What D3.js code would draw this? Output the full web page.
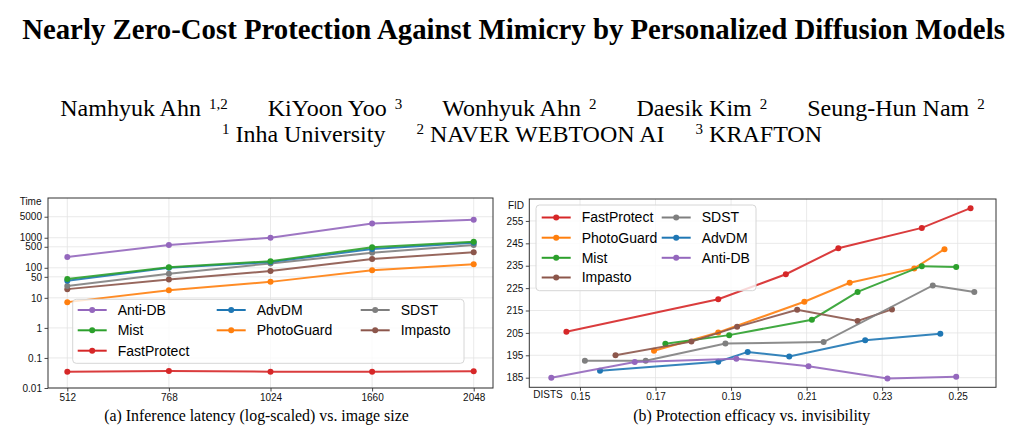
<!DOCTYPE html>
<html><head><meta charset="utf-8">
<script src="https://cdn.jsdelivr.net/npm/d3@7"></script>
<style>body{margin:0;background:#fff} svg{display:block}</style>
</head><body>
<svg id="c" width="1028" height="431"></svg>
<script>
// ---------- Data: (a) latency ----------
const sizes = ["512","768","1024","1660","2048"];
const latAntiDB      = [230, 570, 1000, 2950, 4000];
const latMist        = [42, 105, 166, 480, 740];
const latAdvDM       = [37, 100, 155, 420, 680];
const latSDST        = [25, 63, 140, 316, 570];
const latImpasto     = [19.5, 41, 78, 195, 330];
const latPhotoGuard  = [7.2, 18, 34, 83, 132];
const latFastProtect = [0.035, 0.037, 0.035, 0.035, 0.036];
const latTicks  = [0.01, 0.1, 1, 10, 50, 100, 500, 1000, 5000];
const latTickLabels = ["0.01","0.1","1","10","50","100","500","1000","5000"];
const latLegendOrder = ["Anti-DB","Mist","FastProtect","AdvDM","PhotoGuard","SDST","Impasto"];

// ---------- Data: (b) efficacy vs invisibility ----------
const fpDists = [0.1464, 0.1866, 0.2045, 0.2184, 0.2405, 0.2534];
const fpFid   = [205.5, 220.0, 231.2, 242.8, 251.9, 260.7];
const pgDists = [0.1696, 0.1866, 0.2094, 0.2214, 0.2385, 0.2465];
const pgFid   = [197.0, 205.2, 218.9, 227.4, 233.8, 242.4];
const miDists = [0.1726, 0.1895, 0.2114, 0.2235, 0.2405, 0.2496];
const miFid   = [200.2, 204.0, 210.9, 223.3, 234.8, 234.4];
const imDists = [0.1594, 0.1795, 0.1916, 0.2075, 0.2235, 0.2326];
const imFid   = [195.0, 201.1, 207.7, 215.3, 210.3, 215.5];
const sdDists = [0.1513, 0.1674, 0.1885, 0.2145, 0.2434, 0.2544];
const sdFid   = [192.6, 192.6, 200.3, 200.9, 226.2, 223.3];
const adDists = [0.1553, 0.1866, 0.1944, 0.2054, 0.2255, 0.2454];
const adFid   = [188.1, 192.1, 196.5, 194.5, 201.7, 204.6];
const abDists = [0.1424, 0.1645, 0.1914, 0.2105, 0.2314, 0.2496];
const abFid   = [185.0, 192.0, 193.5, 190.1, 184.6, 185.4];
const distsTicks = [0.15, 0.17, 0.19, 0.21, 0.23, 0.25];
const fidTicks = [185, 195, 205, 215, 225, 235, 245, 255];
const effLegendOrder = ["FastProtect","PhotoGuard","Mist","Impasto","SDST","AdvDM","Anti-DB"];

// ---------- Text ----------
const titleText = "Nearly Zero-Cost Protection Against Mimicry by Personalized Diffusion Models";
const authors = [["Namhyuk Ahn","1,2"],["KiYoon Yoo","3"],["Wonhyuk Ahn","2"],["Daesik Kim","2"],["Seung-Hun Nam","2"]];
const affils = [["1","Inha University"],["2","NAVER WEBTOON AI"],["3","KRAFTON"]];
const capA = "(a) Inference latency (log-scaled) vs. image size";
const capB = "(b) Protection efficacy vs. invisibility";

const colors = {
  "AdvDM":"#1f77b4","PhotoGuard":"#ff7f0e","Mist":"#2ca02c","FastProtect":"#d62728",
  "Anti-DB":"#9467bd","Impasto":"#8c564b","SDST":"#7f7f7f"
};

const svg = d3.select("#c");
const SERIF = "'Liberation Serif','Times New Roman',serif";
const SANS = "'Liberation Sans',Arial,Helvetica,sans-serif";

function fit(sel, target){
  const w = sel.node().getComputedTextLength();
  sel.attr("font-size", parseFloat(sel.attr("font-size")) * target / w);
}

// Title
const t = svg.append("text").attr("x",513.5).attr("y",39).attr("text-anchor","middle")
  .attr("font-family",SERIF).attr("font-weight","bold").attr("font-size",25).attr("fill","#000").text(titleText);
fit(t, 983);

// Authors / affiliations lines
function supLine(items, supFirst, baseY, center, gapIn, gapOut){
  const g = svg.append("g");
  let cx = 0;
  items.forEach((it,i)=>{
    const parts = supFirst ? [[it[0],true],[it[1],false]] : [[it[0],false],[it[1],true]];
    parts.forEach((p,j)=>{
      const el = g.append("text").attr("x",cx).attr("y", p[1] ? baseY-7.5 : baseY)
        .attr("font-family",SERIF).attr("font-size", p[1] ? 15 : 24).attr("fill","#000").text(p[0]);
      cx += el.node().getComputedTextLength();
      if (j===0) cx += gapIn;
    });
    if (i < items.length-1) cx += gapOut;
  });
  g.attr("transform",`translate(${center - cx/2},0)`);
}
supLine(authors, false, 116, 522.5, 8, 40);
supLine(affils, true, 141.5, 522, 6, 31);

// Captions
const ca = svg.append("text").attr("x",256.5).attr("y",421).attr("text-anchor","middle")
  .attr("font-family",SERIF).attr("font-size",15).attr("fill","#000").text(capA);
fit(ca, 305);
const cb = svg.append("text").attr("x",751.7).attr("y",421).attr("text-anchor","middle")
  .attr("font-family",SERIF).attr("font-size",15).attr("fill","#000").text(capB);
fit(cb, 237);

function styleAxis(g){
  g.select(".domain").remove();
  g.selectAll(".tick line").attr("stroke","#333").attr("stroke-width",0.9);
  g.selectAll(".tick text").attr("font-family",SANS).attr("font-size",10).attr("fill","#111");
}

function drawLegend(x0,y0,w,h,cols,rowY,order){
  const lg = svg.append("g");
  lg.append("rect").attr("x",x0).attr("y",y0).attr("width",w).attr("height",h).attr("rx",3.5)
    .attr("fill","#fff").attr("fill-opacity",0.8).attr("stroke","#d6d6d6").attr("stroke-width",1);
  let idx = 0;
  cols.forEach(c=>{
    for (let r=0; r<c.n; r++){
      const name = order[idx++];
      const y = rowY[r];
      lg.append("line").attr("x1",c.x).attr("x2",c.x+29).attr("y1",y).attr("y2",y)
        .attr("stroke",colors[name]).attr("stroke-width",2);
      lg.append("circle").attr("cx",c.x+14.5).attr("cy",y).attr("r",3).attr("fill",colors[name]);
      lg.append("text").attr("x",c.x+40).attr("y",y).attr("dy","0.35em")
        .attr("font-family",SANS).attr("font-size",14).attr("fill","#000").text(name);
    }
  });
}

// ================= Chart (a) =================
{
  const L=48, R=493, T=198, B=388;
  const x = d3.scalePoint().domain(sizes).range([L,R]).padding(0.19);
  const y = d3.scaleLog().domain([0.01, 21000]).range([B,T]);
  const grid = svg.append("g").attr("stroke","#e3e3e3").attr("stroke-width",0.8);
  sizes.forEach(s=>grid.append("line").attr("x1",x(s)).attr("x2",x(s)).attr("y1",T).attr("y2",B));
  latTicks.forEach(v=>grid.append("line").attr("x1",L).attr("x2",R).attr("y1",y(v)).attr("y2",y(v)));

  const series = [
    ["Anti-DB",latAntiDB],["Mist",latMist],["AdvDM",latAdvDM],["SDST",latSDST],
    ["Impasto",latImpasto],["PhotoGuard",latPhotoGuard],["FastProtect",latFastProtect]
  ];
  const line = d3.line().x((d,i)=>x(sizes[i])).y(d=>y(d));
  series.slice().reverse().forEach(([name,vals])=>{
    const g = svg.append("g");
    g.append("path").datum(vals).attr("d",line).attr("fill","none")
      .attr("stroke",colors[name]).attr("stroke-width",2).attr("stroke-opacity",0.9);
    g.selectAll("circle").data(vals).enter().append("circle")
      .attr("cx",(d,i)=>x(sizes[i])).attr("cy",d=>y(d)).attr("r",3).attr("fill",colors[name]);
  });

  svg.append("rect").attr("x",L).attr("y",T).attr("width",R-L).attr("height",B-T)
    .attr("fill","none").attr("stroke","#333").attr("stroke-width",1);
  const ya = svg.append("g").attr("transform",`translate(${L},0)`)
    .call(d3.axisLeft(y).tickValues(latTicks).tickFormat((d,i)=>latTickLabels[i]).tickSize(3.5).tickPadding(2.5));
  styleAxis(ya);
  const xa = svg.append("g").attr("transform",`translate(0,${B})`)
    .call(d3.axisBottom(x).tickSize(3.5).tickPadding(2.5));
  styleAxis(xa);
  svg.append("text").attr("x",41.5).attr("y",201.7).attr("dy","0.35em").attr("text-anchor","end")
    .attr("font-family",SANS).attr("font-size",10).attr("fill","#111").text("Time");

  drawLegend(72.7,299.3,391.3,64,[{x:77.7,n:3},{x:216.7,n:2},{x:360.7,n:2}],[310,330.3,350.7],latLegendOrder);
}

// ================= Chart (b) =================
{
  const L=529.3, R=996, T=199, B=387.3;
  const x = d3.scaleLinear().domain([0.13658, 0.26014]).range([L,R]);
  const y = d3.scaleLinear().domain([180.7, 264.8]).range([B,T]);
  const grid = svg.append("g").attr("stroke","#e3e3e3").attr("stroke-width",0.8);
  distsTicks.forEach(v=>grid.append("line").attr("x1",x(v)).attr("x2",x(v)).attr("y1",T).attr("y2",B));
  fidTicks.forEach(v=>grid.append("line").attr("x1",L).attr("x2",R).attr("y1",y(v)).attr("y2",y(v)));

  const series = [
    ["FastProtect",fpDists,fpFid],["PhotoGuard",pgDists,pgFid],["Mist",miDists,miFid],
    ["Impasto",imDists,imFid],["SDST",sdDists,sdFid],["AdvDM",adDists,adFid],["Anti-DB",abDists,abFid]
  ];
  series.forEach(([name,xs,ys])=>{
    const pts = xs.map((v,i)=>[v,ys[i]]);
    const line = d3.line().x(d=>x(d[0])).y(d=>y(d[1]));
    const g = svg.append("g");
    g.append("path").datum(pts).attr("d",line).attr("fill","none")
      .attr("stroke",colors[name]).attr("stroke-width",2).attr("stroke-opacity",0.9);
    g.selectAll("circle").data(pts).enter().append("circle")
      .attr("cx",d=>x(d[0])).attr("cy",d=>y(d[1])).attr("r",3).attr("fill",colors[name]);
  });

  svg.append("rect").attr("x",L).attr("y",T).attr("width",R-L).attr("height",B-T)
    .attr("fill","none").attr("stroke","#333").attr("stroke-width",1);
  const ya = svg.append("g").attr("transform",`translate(${L},0)`)
    .call(d3.axisLeft(y).tickValues(fidTicks).tickFormat(d3.format("d")).tickSize(3.5).tickPadding(2.5));
  styleAxis(ya);
  const xa = svg.append("g").attr("transform",`translate(0,${B})`)
    .call(d3.axisBottom(x).tickValues(distsTicks).tickFormat(d3.format(".2f")).tickSize(3.5).tickPadding(2.5));
  styleAxis(xa);
  svg.append("text").attr("x",524).attr("y",205.7).attr("dy","0.35em").attr("text-anchor","end")
    .attr("font-family",SANS).attr("font-size",10).attr("fill","#111").text("FID");
  svg.append("text").attr("x",533.3).attr("y",394.5).attr("dy","0.35em")
    .attr("font-family",SANS).attr("font-size",10).attr("fill","#111").text("DISTS");

  drawLegend(536,205,220,85.7,[{x:541.7,n:4},{x:661.7,n:3}],[217.5,237.7,257.8,277.5],effLegendOrder);
}
</script>
</body></html>
